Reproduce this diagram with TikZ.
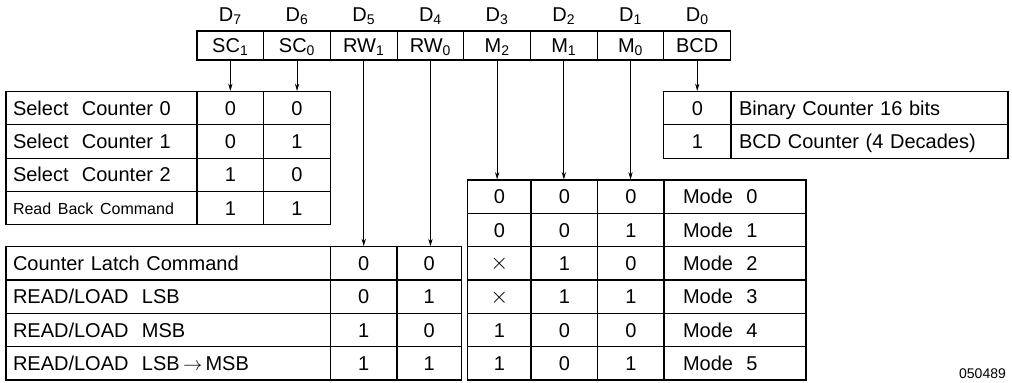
\documentclass[tikz,border=0pt]{standalone}
\usepackage{fontspec}
\setmainfont{Liberation Sans}
\usetikzlibrary{arrows.meta}
\tikzset{
  box/.style={draw, line width=0.8pt, inner sep=0pt, text height=10.75pt, text depth=0pt,
    font=\fontsize{15}{18}\selectfont, align=center},
  cell/.style 2 args={box, minimum width=#1*0.75pt, minimum height=#2*0.75pt},
  reg/.style={cell={66.7}{29}},
  bit/.style={cell={66.7}{33.3}},
  tltext/.style={cell={191}{33.3}, text width=132.75pt, inner xsep=5.25pt, align=left},
  bltext/.style={cell={324.5}{33.33}, text width=232.875pt, inner xsep=5.25pt, align=left},
  blbit/.style={cell={#1}{33.33}},
  mbit/.style={cell={#1}{33.33}},
  mtext/.style={cell={142}{33.33}, text width=78pt, inner xsep=14.25pt, align=left},
  bcdbit/.style={cell={67.1}{33.3}},
  bcdtext/.style={cell={277}{33.3}, text width=195.75pt, inner xsep=6pt, align=left},
  dlabel/.style={inner sep=0pt, font=\fontsize{15}{18}\selectfont},
  arr/.style={line width=0.6pt, -{Stealth[length=5.5pt,width=3.2pt]}},
}
\newcommand{\dontcare}{\raisebox{0.5pt}{\fontsize{19}{20}\selectfont$\times$}}
\begin{document}
\begin{tikzpicture}[x=0.75pt,y=-0.75pt]
\useasboundingbox (0,0) rectangle (1012,382);
% register
\foreach \i/\t/\d in {0/SC\textsubscript{1}/7,1/SC\textsubscript{0}/6,2/RW\textsubscript{1}/5,3/RW\textsubscript{0}/4,4/M\textsubscript{2}/3,5/M\textsubscript{1}/2,6/M\textsubscript{0}/1,7/BCD/0}{
  \node[reg] (r\i) at ({230.35+66.7*\i},45.5) {\t};
  \node[dlabel] (d\i) at ({230.35+66.7*\i},16) {D\textsubscript{\d}};
}
% top-left table
\node[tltext] (t10) at (101.5,108.15) {Select\ \ Counter 0};
\node[bit] (t11) at (230.35,108.15) {0};
\node[bit] (t12) at (297.05,108.15) {0};
\node[tltext] (t20) at (101.5,141.45) {Select\ \ Counter 1};
\node[bit] (t21) at (230.35,141.45) {0};
\node[bit] (t22) at (297.05,141.45) {1};
\node[tltext] (t30) at (101.5,174.75) {Select\ \ Counter 2};
\node[bit] (t31) at (230.35,174.75) {1};
\node[bit] (t32) at (297.05,174.75) {0};
\node[tltext, text height=9pt] (t40) at (101.5,208.05) {\fontsize{12}{14}\selectfont Read Back Command};
\node[bit] (t41) at (230.35,208.05) {1};
\node[bit] (t42) at (297.05,208.05) {1};
% BCD table
\node[bcdbit] (b11) at (697.45,108.15) {0};
\node[bcdtext] (b12) at (869.5,108.15) {Binary Counter 16 bits};
\node[bcdbit] (b21) at (697.45,141.45) {1};
\node[bcdtext] (b22) at (869.5,141.45) {BCD Counter (4 Decades)};
% bottom-left table
\node[bltext] (l10) at (168.25,263.33) {Counter Latch Command};
\node[blbit=66.5] (l11) at (363.75,263.33) {0};
\node[blbit=64.5] (l12) at (429.25,263.33) {0};
\node[bltext] (l20) at (168.25,296.67) {READ/LOAD\ \ LSB};
\node[blbit=66.5] (l21) at (363.75,296.67) {0};
\node[blbit=64.5] (l22) at (429.25,296.67) {1};
\node[bltext] (l30) at (168.25,330) {READ/LOAD\ \ MSB};
\node[blbit=66.5] (l31) at (363.75,330) {1};
\node[blbit=64.5] (l32) at (429.25,330) {0};
\node[bltext] (l40) at (168.25,363.33) {READ/LOAD\ \ LSB\,$\rightarrow$\,MSB};
\node[blbit=66.5] (l41) at (363.75,363.33) {1};
\node[blbit=64.5] (l42) at (429.25,363.33) {1};
% mode table
\foreach \k/\a/\b/\c in {0/0/0/0,1/0/0/1,2/\dontcare/1/0,3/\dontcare/1/1,4/1/0/0,5/1/0/1}{
  \node[mbit=63.3] (m\k a) at (499.35,{196.67+33.333*\k}) {\a};
  \node[mbit=66.7] (m\k b) at (564.35,{196.67+33.333*\k}) {\b};
  \node[mbit=66.3] (m\k c) at (630.85,{196.67+33.333*\k}) {\c};
  \node[mtext] (m\k d) at (735,{196.67+33.333*\k}) {Mode\ \ \k};
}
% connectors
\draw[arr] (r0.south) -- (r0.south |- t11.north);
\draw[arr] (r1.south) -- (r1.south |- t12.north);
\draw[arr] (r2.south) -- (r2.south |- l11.north);
\draw[arr] (r3.south) -- (r3.south |- l12.north);
\draw[arr] (r4.south) -- (r4.south |- m0a.north);
\draw[arr] (r5.south) -- (r5.south |- m0b.north);
\draw[arr] (r6.south) -- (r6.south |- m0c.north);
\draw[arr] (r7.south) -- (r7.south |- b11.north);
% drawing number
\node[inner sep=0pt, anchor=north, font=\fontsize{10.5}{12}\selectfont] (num) at (982.5,368) {050489};
\end{tikzpicture}
\end{document}
